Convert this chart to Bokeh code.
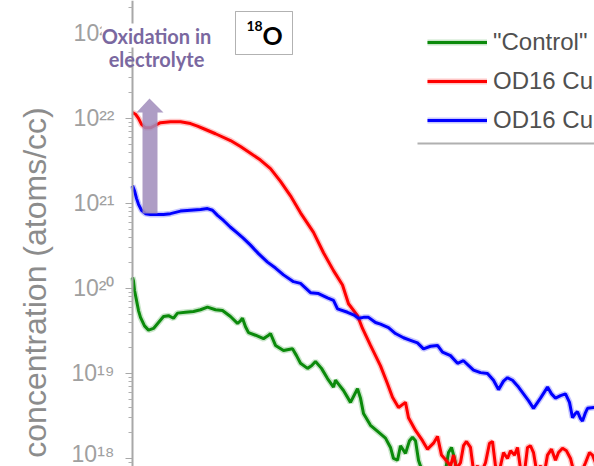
from math import pi
from bokeh.plotting import figure
from bokeh.models import (Range1d, FixedTicker, Legend, LegendItem, Label, LogAxis,
                          BoxAnnotation, PolyAnnotation, CustomJSTickFormatter)
from bokeh.embed import file_html
from bokeh.resources import INLINE

# ---------------- data (depth in nm, log10 of concentration in atoms/cc) ----------------
control_depth = [0, 1, 2, 4, 6, 8, 12, 16, 21, 26, 31, 36, 41, 45, 53, 61, 68, 75, 83, 90,
                 98, 105, 108, 110, 113, 116, 123, 131, 135, 138, 143, 151, 160, 164, 168, 175,
                 179, 183, 189, 195, 201, 203, 207, 211, 218, 225, 228, 231, 238, 246, 253, 258,
                 261, 265, 268, 273, 277, 280, 283, 286, 290, 296, 302, 308, 313, 316, 319, 322,
                 326, 333, 343, 358, 378, 398, 418, 438, 462]
control_log = [20.13, 20.09, 19.98, 19.86, 19.74, 19.66, 19.56, 19.51, 19.53, 19.60, 19.67, 19.68,
               19.65, 19.71, 19.72, 19.73, 19.75, 19.78, 19.75, 19.74, 19.67, 19.59, 19.62, 19.65,
               19.55, 19.48, 19.45, 19.41, 19.44, 19.47, 19.33, 19.27, 19.29, 19.21, 19.12, 19.06,
               19.09, 19.14, 19.06, 18.94, 18.84, 18.92, 18.86, 18.80, 18.66, 18.82, 18.71, 18.53,
               18.39, 18.31, 18.24, 18.13, 18.00, 17.98, 18.15, 18.06, 18.21, 18.25, 18.21, 17.98,
               17.84, 17.76, 17.86, 17.74, 17.86, 18.07, 18.13, 18.00, 17.76, 17.68, 17.74, 17.65,
               17.76, 17.62, 17.74, 17.65, 17.72]

red_depth = [0, 3, 6, 9, 13, 18, 23, 28, 38, 48, 58, 65, 73, 83, 98, 108, 118, 128, 138, 148,
             158, 168, 181, 191, 201, 210, 216, 225, 230, 238, 248, 255, 260, 266, 273, 276, 283,
             290, 295, 301, 305, 309, 315,
             318, 321, 324, 328, 331, 334, 338, 341, 345, 349, 353, 357, 360, 363, 367, 371, 375,
             378, 382, 385, 388, 392, 395, 398, 401, 404, 408, 412, 415, 419, 423, 426, 430, 434,
             438, 441, 445, 449, 453, 457, 460, 464]
red_log = [22.07, 22.05, 22.00, 21.93, 21.89, 21.89, 21.92, 21.95, 21.96, 21.96, 21.94, 21.91,
           21.87, 21.82, 21.74, 21.67, 21.59, 21.51, 21.41, 21.26, 21.09, 20.89, 20.66, 20.42,
           20.21, 20.04, 19.82, 19.68, 19.53, 19.33, 19.09, 18.88, 18.72, 18.60, 18.66, 18.48,
           18.33, 18.21, 18.11, 18.18, 18.26, 18.04, 17.96,
           17.91, 18.04, 17.88, 17.95, 18.15, 18.20, 18.13, 17.86, 17.91, 17.84, 17.95, 18.18,
           18.20, 17.91, 17.86, 18.07, 18.00, 18.09, 18.04, 18.13, 17.88, 17.84, 18.13, 18.15,
           18.07, 17.86, 17.91, 17.84, 18.04, 18.11, 17.98, 18.07, 18.12, 18.09, 18.00, 17.86,
           17.88, 17.84, 17.95, 18.07, 18.04, 17.92]

blue_depth = [0, 2, 4, 6, 9, 13, 18, 23, 31, 38, 48, 58, 68, 75, 80, 85, 91, 98, 105, 111,
              118, 126, 135, 143, 151, 161, 168, 178, 186, 195, 201, 205, 215, 221, 226, 231,
              236, 243, 248, 256, 263, 271, 278, 285, 291, 298, 305, 310, 318, 325, 331, 341,
              348, 355, 361, 366, 371, 375, 380, 386, 391, 396, 401, 408, 415, 419, 423, 428,
              433, 437, 440, 443, 445, 448, 450, 453, 455, 462]
blue_log = [21.21, 21.15, 21.06, 20.99, 20.92, 20.88, 20.87, 20.87, 20.87, 20.88, 20.91, 20.92,
            20.93, 20.94, 20.92, 20.86, 20.80, 20.72, 20.65, 20.59, 20.51, 20.41, 20.31, 20.24,
            20.16, 20.08, 20.06, 19.95, 19.94, 19.89, 19.86, 19.76, 19.72, 19.69, 19.65, 19.66,
            19.66, 19.60, 19.58, 19.54, 19.47, 19.42, 19.39, 19.36, 19.29, 19.32, 19.33, 19.25,
            19.21, 19.12, 19.15, 19.04, 19.01, 19.00, 18.92, 18.81, 18.91, 18.95, 18.92, 18.84,
            18.76, 18.68, 18.59, 18.71, 18.84, 18.76, 18.71, 18.74, 18.76, 18.66, 18.48, 18.53,
            18.55, 18.47, 18.44, 18.54, 18.59, 18.60]

series_labels = ['"Control"', "OD16 Cu", "OD16 Cu"]
major_ticks = [1e18, 1e19, 1e20, 1e21, 1e22, 1e23]

# ---------------- figure ----------------
p = figure(width=594, height=466, output_backend="svg", toolbar_location=None,
           y_axis_type="log", x_axis_location=None, y_axis_location=None,
           x_range=Range1d(-132, 462), y_range=Range1d(8.05e17, 2.44e23),
           min_border_left=0, min_border_right=0, min_border_top=0, min_border_bottom=0)
p.outline_line_color = None
p.grid.visible = False
p.background_fill_color = "white"

minor = [m * 10.0 ** e for e in range(17, 24) for m in range(2, 10)]
ax = LogAxis(fixed_location=0,
             ticker=FixedTicker(ticks=major_ticks, minor_ticks=minor),
             formatter=CustomJSTickFormatter(code="""
const e = Math.round(Math.log10(tick));
const sup = {"0":"\u2070","1":"\u00b9","2":"\u00b2","3":"\u00b3","4":"\u2074","5":"\u2075",
             "6":"\u2076","7":"\u2077","8":"\u2078","9":"\u2079","-":"\u207b"};
return "10" + String(e).split("").map(c => sup[c]).join("");
"""))
ax.major_label_text_font = "Liberation Sans"
ax.major_label_text_font_size = "23px"
ax.major_label_text_color = "#a0a0a0"
ax.major_label_standoff = 11
ax.axis_line_color = "#a8a8a8"
ax.axis_line_width = 2
ax.major_tick_line_color = "#a8a8a8"
ax.major_tick_out = 7
ax.major_tick_in = 0
ax.minor_tick_line_color = "#b0b0b0"
ax.minor_tick_out = 4
ax.minor_tick_in = 0
p.add_layout(ax, "left")

p.add_layout(Label(x=34, y=184, x_units="screen", y_units="screen", angle=pi / 2,
                   text="concentration (atoms/cc)", text_align="center",
                   text_baseline="alphabetic", text_font="Liberation Sans",
                   text_font_size="32px", text_color="#8c8c8c"))

colors = ["#0b8a0b", "#ff0000", "#0000ff"]
data = [(control_depth, control_log), (red_depth, red_log), (blue_depth, blue_log)]
items = []
for (d, lg), c, lab in zip(data, colors, series_labels):
    conc = [10.0 ** v for v in lg]
    glow = p.line(d, conc, line_color=c, line_width=6, line_alpha=0.22)
    main = p.line(d, conc, line_color=c, line_width=3)
    items.append(LegendItem(label=lab, renderers=[glow, main]))

legend = Legend(items=items, location=(427, 332), orientation="vertical",
                border_line_alpha=0, background_fill_alpha=0,
                glyph_width=60, glyph_height=28, label_height=28, spacing=11,
                padding=0, margin=0, label_standoff=6,
                label_text_font="Liberation Sans", label_text_font_size="24px",
                label_text_color="#505050")
p.add_layout(legend)

# rule under the legend
p.add_layout(BoxAnnotation(left=417, right=600, bottom=322, top=324,
                           left_units="screen", right_units="screen",
                           bottom_units="screen", top_units="screen",
                           fill_color="#b0b0b0", fill_alpha=1, line_color=None))

# arrow "oxidation in electrolyte"
p.add_layout(PolyAnnotation(xs=[142, 142, 136, 149, 163, 157, 157],
                            ys=[253, 354, 354, 368, 354, 354, 253],
                            xs_units="screen", ys_units="screen",
                            fill_color="#a08cbb", fill_alpha=0.85, line_color=None))
p.add_layout(Label(x=156, y=431, x_units="screen", y_units="screen", text="Oxidation in",
                   text_align="center", text_baseline="alphabetic",
                   text_font="Lato", text_font_style="bold", text_font_size="20px",
                   text_color="#7a68a0", background_fill_color="white", padding=0))
p.add_layout(Label(x=156, y=408, x_units="screen", y_units="screen", text="electrolyte",
                   text_align="center", text_baseline="alphabetic",
                   text_font="Lato", text_font_style="bold", text_font_size="20px",
                   text_color="#7a68a0"))

# isotope box
p.add_layout(BoxAnnotation(left=235, right=292, bottom=412, top=455,
                           left_units="screen", right_units="screen",
                           bottom_units="screen", top_units="screen",
                           fill_color="white", fill_alpha=1, line_color="black", line_width=1))
p.add_layout(Label(x=246, y=441, x_units="screen", y_units="screen", text="18",
                   text_baseline="alphabetic", text_font="Lato", text_font_style="bold",
                   text_font_size="14px", text_color="black"))
p.add_layout(Label(x=262, y=432, x_units="screen", y_units="screen", text="O",
                   text_baseline="alphabetic", text_font="Lato", text_font_style="bold",
                   text_font_size="25px", text_color="black"))

open("out.html", "w").write(file_html(p, INLINE))
